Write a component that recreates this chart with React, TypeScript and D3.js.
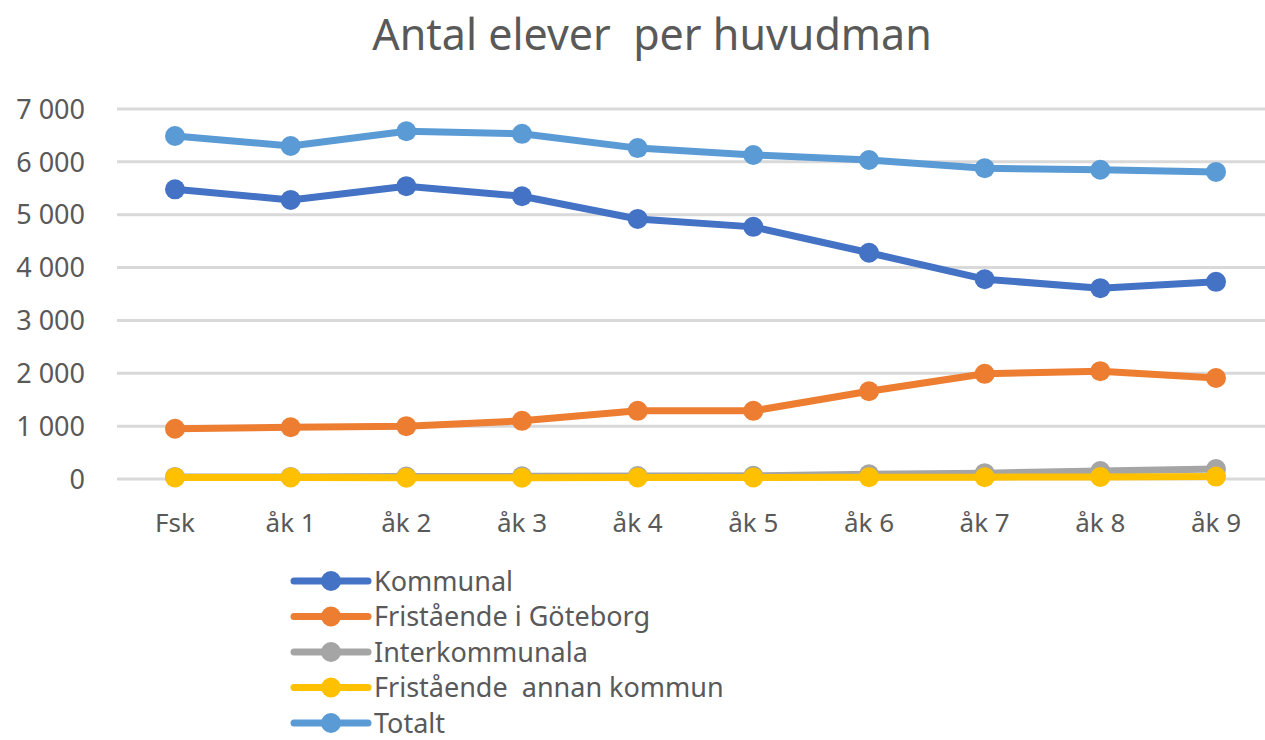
import * as d3 from "d3";
import { useEffect } from "react";

const categories = ["Fsk", "åk 1", "åk 2", "åk 3", "åk 4", "åk 5", "åk 6", "åk 7", "åk 8", "åk 9"];
const kommunal = [5480, 5280, 5540, 5350, 4920, 4770, 4280, 3780, 3610, 3730];
const fristaendeGbg = [950, 980, 1000, 1100, 1290, 1290, 1660, 1990, 2040, 1910];
const interkommunala = [40, 40, 45, 50, 55, 60, 90, 110, 150, 190];
const fristaendeAnnan = [30, 30, 25, 25, 30, 30, 35, 35, 40, 45];
const totalt = [6490, 6300, 6580, 6530, 6260, 6130, 6035, 5880, 5850, 5810];
const yTicks = [0, 1000, 2000, 3000, 4000, 5000, 6000, 7000];

const series = [
  { name: "Kommunal", values: kommunal, color: "#4472C4" },
  { name: "Fristående i Göteborg", values: fristaendeGbg, color: "#ED7D31" },
  { name: "Interkommunala", values: interkommunala, color: "#A5A5A5" },
  { name: "Fristående\u00a0 annan kommun", values: fristaendeAnnan, color: "#FFC000" },
  { name: "Totalt", values: totalt, color: "#5B9BD5" },
];

const W = 1265;
const H = 740;
const font = "'Noto Sans', sans-serif";

export default function App() {
  useEffect(() => {
    document.body.style.margin = "0";
  }, []);

  const x = d3.scalePoint().domain(categories).range([175, 1216]);
  const y = d3.scaleLinear().domain([0, 7000]).range([479, 109]);
  const line = d3
    .line<number>()
    .x((_, i) => x(categories[i])!)
    .y((d) => y(d));

  const fmt = (v: number) => d3.format(",")(v).replace(",", " ");

  return (
    <svg width={W} height={H} style={{ display: "block", background: "#fff" }} fontFamily={font}>
      <text x={652} y={50} textAnchor="middle" fontSize={43} fill="#595959">
        {"Antal elever\u00a0 per huvudman"}
      </text>
      {yTicks.map((t) => (
        <g key={t}>
          <line x1={117} x2={1274} y1={y(t)} y2={y(t)} stroke="#D9D9D9" strokeWidth={3} />
          <text x={85} y={y(t)} dy="0.36em" textAnchor="end" fontSize={27} fill="#595959">
            {fmt(t)}
          </text>
        </g>
      ))}
      {categories.map((c) => (
        <text key={c} x={x(c)} y={532} textAnchor="middle" fontSize={26} fill="#595959">
          {c}
        </text>
      ))}
      {series.map((s) => (
        <g key={s.name}>
          <path d={line(s.values)!} fill="none" stroke={s.color} strokeWidth={7} strokeLinejoin="round" />
          {s.values.map((v, i) => (
            <circle key={i} cx={x(categories[i])} cy={y(v)} r={10} fill={s.color} />
          ))}
        </g>
      ))}
      {series.map((s, i) => {
        const ly = 581 + i * 35.5;
        return (
          <g key={s.name}>
            <line x1={294} x2={368} y1={ly} y2={ly} stroke={s.color} strokeWidth={7} strokeLinecap="round" />
            <circle cx={331} cy={ly} r={10} fill={s.color} />
            <text x={374} y={ly} dy="0.36em" fontSize={27} fill="#595959">
              {s.name}
            </text>
          </g>
        );
      })}
    </svg>
  );
}
